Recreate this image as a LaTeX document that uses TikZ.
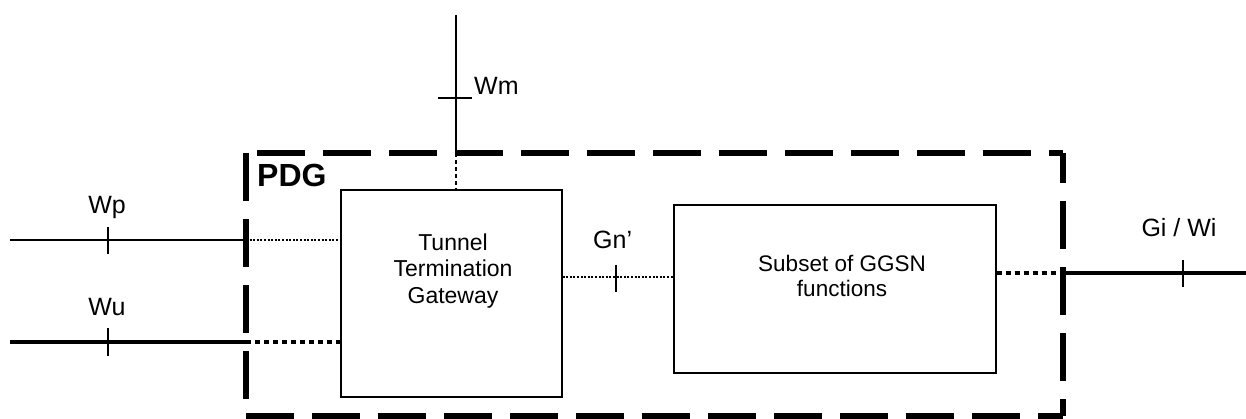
\documentclass[tikz,border=0pt]{standalone}
\usepackage{fontspec}
\setmainfont{Liberation Sans}
\begin{document}
\begin{tikzpicture}[x=1pt,y=-1pt,
  pdgline/.style={line width=5.5pt,dash pattern=on 48pt off 18pt},
  thinline/.style={line width=1.4pt},
  thickline/.style={line width=4pt},
  thindot/.style={line width=1.2pt,dash pattern=on 2pt off 1.6pt},
  thickdot/.style={line width=4pt,dash pattern=on 5pt off 4pt},
  mdash/.style={line width=1.3pt,dash pattern=on 4pt off 3pt},
  tick/.style={line width=1.2pt},
  boxnode/.style={draw,line width=1.3pt,inner sep=0pt},
  lbl/.style={inner sep=0pt,anchor=base,font=\fontsize{25}{29}\selectfont},
  txt/.style={inner sep=0pt,anchor=base,font=\fontsize{23}{27}\selectfont}]
\useasboundingbox (0,0) rectangle (1246,419);
% PDG dashed border
\coordinate (tl) at (246,153);
\coordinate (tr) at (1063,153);
\coordinate (bl) at (246,416);
\coordinate (br) at (1063,416);
\draw[pdgline,dash phase=55pt] (tl) -- (tr);
\draw[pdgline] (tl) -- (bl);
\draw[pdgline,dash phase=18pt] (tr) -- (br);
\draw[pdgline] (bl) -- (br);
\node[inner sep=0pt,anchor=base west,font=\bfseries\fontsize{32}{36}\selectfont] (pdg) at (257,187) {PDG};
% boxes
\node[boxnode,minimum width=221pt,minimum height=207pt] (ttg) at (451.5,293.5) {};
\node[boxnode,minimum width=322pt,minimum height=168pt] (sub) at (835,289) {};
\node[txt] (t1) at (453,251) {Tunnel};
\node[txt] (t2) at (453,277) {Termination};
\node[txt] (t3) at (453,304) {Gateway};
\node[txt,font=\fontsize{22.5}{27}\selectfont] (s1) at (842,272) {Subset of GGSN};
\node[txt,font=\fontsize{22.5}{27}\selectfont] (s2) at (842,296) {functions};
% Wm
\coordinate (wmT) at (456,15);
\coordinate (wmB) at (456,153);
\draw[thinline] (wmT) -- (wmB);
\draw[mdash] (wmB) -- (ttg.north -| wmB);
\coordinate (wmt1) at (438,98);
\coordinate (wmt2) at (472,98);
\draw[tick] (wmt1) -- (wmt2);
\node[lbl,anchor=base west] (wm) at (474,95) {Wm};
% Wp
\coordinate (wpL) at (10,240);
\coordinate (wpP) at (246,240);
\draw[thinline] (wpL) -- (wpP);
\draw[thindot] (wpP) -- (ttg.west |- wpP);
\coordinate (wpt1) at (108,227);
\coordinate (wpt2) at (108,254);
\draw[tick] (wpt1) -- (wpt2);
\node[lbl] (wp) at (107,214) {Wp};
% Wu
\coordinate (wuL) at (10,342);
\coordinate (wuP) at (246,342);
\draw[thickline] (wuL) -- (wuP);
\draw[thickdot] (wuP) -- (ttg.west |- wuP);
\coordinate (wut1) at (108,328);
\coordinate (wut2) at (108,356);
\draw[tick] (wut1) -- (wut2);
\node[lbl] (wu) at (107,316) {Wu};
% Gn'
\coordinate (gnA) at (562,277);
\draw[thindot] (ttg.east |- gnA) -- (sub.west |- gnA);
\coordinate (gnt1) at (616,265);
\coordinate (gnt2) at (616,292);
\draw[tick] (gnt1) -- (gnt2);
\node[lbl,anchor=base west] (gn) at (593,249) {Gn’};
% Gi / Wi
\coordinate (giP) at (1063,273);
\coordinate (giR) at (1246,273);
\draw[thickdot] (sub.east |- giP) -- (giP);
\draw[thickline] (giP) -- (giR);
\coordinate (git1) at (1183,260);
\coordinate (git2) at (1183,287);
\draw[tick] (git1) -- (git2);
\node[lbl] (gi) at (1179,237) {Gi / Wi};
\end{tikzpicture}
\end{document}
